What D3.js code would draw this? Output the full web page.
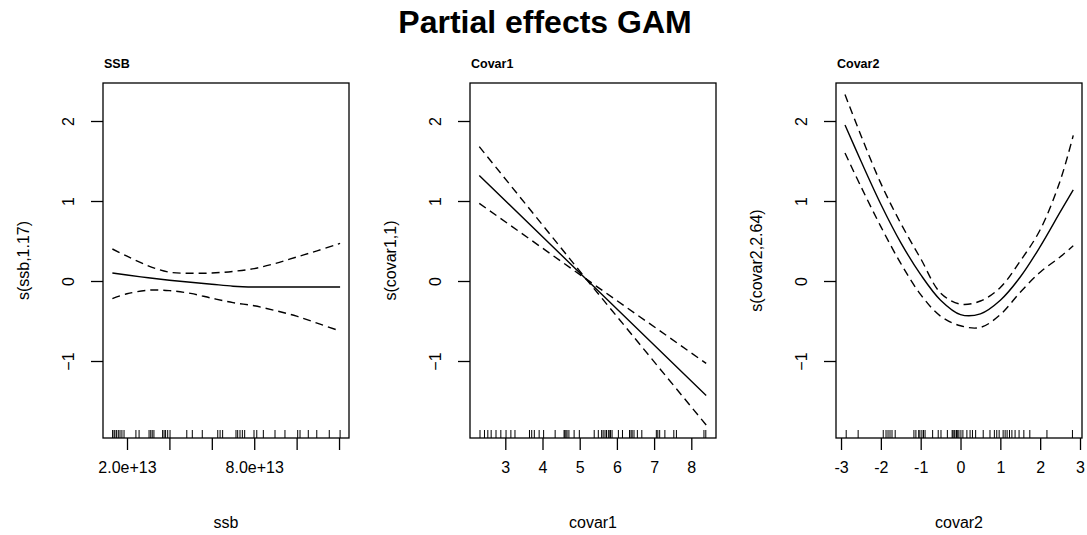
<!DOCTYPE html>
<html>
<head>
<meta charset="utf-8">
<script src="https://cdn.jsdelivr.net/npm/d3@7"></script>
<style>
  body { margin: 0; background: #fff; }
  svg { display: block; font-family: "Liberation Sans", Arial, sans-serif; }
</style>
</head>
<body>
<svg id="chart" width="1087" height="535"></svg>
<script>
// ---- data (x of ssb in units of 1e13) ----
const yTicks = [-1, 0, 1, 2];

const ssbTicks = [2, 4, 6, 8, 10, 12];
const ssbTickLabels = ["2.0e+13", "", "", "8.0e+13", "", ""];
const ssbGrid = [1.31, 2, 3, 4, 5, 6, 7, 8, 9, 10, 11, 12.05];
const ssbFit = [0.10, 0.075, 0.04, 0.01, -0.015, -0.04, -0.065, -0.075, -0.075, -0.075, -0.075, -0.075];
const ssbUpper = [0.40, 0.31, 0.19, 0.11, 0.097, 0.10, 0.12, 0.155, 0.22, 0.30, 0.38, 0.47];
const ssbLower = [-0.22, -0.16, -0.115, -0.12, -0.155, -0.215, -0.27, -0.31, -0.37, -0.44, -0.53, -0.625];
const ssbRug = [1.32, 1.39, 1.43, 1.51, 1.59, 1.67, 1.76, 1.86, 2.42, 2.57, 3.04, 3.12, 3.19, 3.27, 3.68, 3.75,
  3.82, 3.92, 4.03, 4.82, 5.08, 5.55, 6.28, 6.39, 6.51, 7.14, 7.22, 7.33, 7.44, 7.55, 7.99, 8.12, 8.43,
  8.98, 9.45, 10.05, 10.16, 10.55, 10.95, 11.54, 12.05];

const covar1Ticks = [3, 4, 5, 6, 7, 8];
const covar1TickLabels = ["3", "4", "5", "6", "7", "8"];
const covar1Grid = [2.30, 5.17, 8.40];
const covar1Fit = [1.32, 0.026, -1.43];
const covar1Upper = [1.68, 0.026, -1.03];
const covar1Lower = [0.97, 0.026, -1.80];
const covar1Rug = [2.32, 2.44, 2.53, 2.62, 2.75, 2.88, 3.02, 3.15, 3.26, 3.65, 3.71, 3.78, 3.91, 4.03, 4.34,
  4.58, 4.60, 4.63, 4.66, 4.71, 4.85, 4.99, 5.39, 5.50, 5.59, 5.63, 5.68, 5.72, 5.77, 5.81, 5.83, 5.87,
  6.04, 6.15, 6.34, 6.38, 6.41, 6.46, 6.55, 6.67, 7.06, 7.10, 7.15, 7.29, 7.53, 7.60, 8.34, 8.39];

const covar2Ticks = [-3, -2, -1, 0, 1, 2, 3];
const covar2TickLabels = ["-3", "-2", "-1", "0", "1", "2", "3"];
const covar2Grid = [-2.90, -2.5, -2.0, -1.5, -1.0, -0.5, 0, 0.5, 1.0, 1.5, 2.0, 2.5, 2.83];
const covar2Fit = [1.95, 1.50, 0.96, 0.48, 0.08, -0.24, -0.42, -0.41, -0.24, 0.05, 0.43, 0.86, 1.14];
const covar2Upper = [2.33, 1.82, 1.22, 0.72, 0.28, -0.15, -0.29, -0.25, -0.08, 0.25, 0.64, 1.25, 1.82];
const covar2Lower = [1.60, 1.18, 0.68, 0.22, -0.17, -0.44, -0.56, -0.58, -0.42, -0.14, 0.11, 0.30, 0.44];
const covar2Rug = [-2.87, -2.57, -1.94, -1.87, -1.82, -1.77, -1.72, -1.64, -1.17, -1.12, -1.05, -1.02, -0.97,
  -0.93, -0.89, -0.70, -0.56, -0.49, -0.33, -0.21, -0.19, -0.16, -0.14, -0.10, -0.07, -0.04, 0.01, 0.06,
  0.16, 0.24, 0.30, 0.38, 0.57, 0.74, 0.85, 0.91, 0.97, 1.07, 1.12, 1.17, 1.23, 1.29, 1.37, 1.47, 1.59,
  1.74, 2.17, 2.81];

// ---- layout ----
const svg = d3.select("#chart");
const plotTop = 83, plotBottom = 438, panelW = 246;
const yScale = d3.scaleLinear().domain([-1.9625, 2.475]).range([plotBottom, plotTop]);

svg.append("text")
  .attr("x", 545).attr("y", 33)
  .attr("text-anchor", "middle")
  .style("font-size", "32px").style("font-weight", "bold")
  .text("Partial effects GAM");

const smooth = d3.curveCatmullRom.alpha(0.5);
const panels = [
  {left: 103, domain: [0.868, 12.47], title: "SSB", xTitle: "ssb", yTitle: "s(ssb,1.17)",
   ticks: ssbTicks, labels: ssbTickLabels, grid: ssbGrid, fit: ssbFit, upper: ssbUpper, lower: ssbLower, rug: ssbRug, curve: smooth},
  {left: 470, domain: [2.051, 8.664], title: "Covar1", xTitle: "covar1", yTitle: "s(covar1,1)",
   ticks: covar1Ticks, labels: covar1TickLabels, grid: covar1Grid, fit: covar1Fit, upper: covar1Upper, lower: covar1Lower, rug: covar1Rug, curve: d3.curveLinear},
  {left: 836, domain: [-3.126, 3.050], title: "Covar2", xTitle: "covar2", yTitle: "s(covar2,2.64)",
   ticks: covar2Ticks, labels: covar2TickLabels, grid: covar2Grid, fit: covar2Fit, upper: covar2Upper, lower: covar2Lower, rug: covar2Rug, curve: smooth}
];

panels.forEach(p => drawPanel(p));

function drawPanel(p) {
  const x = d3.scaleLinear().domain(p.domain).range([p.left, p.left + panelW]);
  const g = svg.append("g");

  // x axis
  const xAxis = g.append("g")
    .attr("transform", `translate(0,${plotBottom})`)
    .call(d3.axisBottom(x).tickValues(p.ticks).tickSize(12).tickFormat((d, i) => p.labels[i]));
  xAxis.select(".domain").remove();
  xAxis.selectAll("line").attr("stroke", "#000").attr("stroke-width", 1.3);
  xAxis.selectAll("text").attr("y", 35).attr("dy", null)
    .attr("fill", "#000").style("font-size", "16px").style("font-family", "Liberation Sans, Arial, sans-serif");

  // y axis
  const yAxis = g.append("g")
    .attr("transform", `translate(${p.left},0)`)
    .call(d3.axisLeft(yScale).tickValues(yTicks).tickSize(12).tickFormat(d3.format("d")));
  yAxis.select(".domain").remove();
  yAxis.selectAll("line").attr("stroke", "#000").attr("stroke-width", 1.3);
  yAxis.selectAll("text")
    .attr("x", null).attr("dy", null)
    .attr("transform", "translate(-29,0) rotate(-90)")
    .attr("text-anchor", "middle")
    .attr("fill", "#000").style("font-size", "16px").style("font-family", "Liberation Sans, Arial, sans-serif");

  // box
  g.append("rect")
    .attr("x", p.left).attr("y", plotTop)
    .attr("width", panelW).attr("height", plotBottom - plotTop)
    .attr("fill", "none").attr("stroke", "#000").attr("stroke-width", 1.3);

  // titles
  g.append("text")
    .attr("x", p.left + 1).attr("y", 68)
    .style("font-size", "12.5px").style("font-weight", "bold")
    .text(p.title);
  g.append("text")
    .attr("x", p.left + panelW / 2).attr("y", 528)
    .attr("text-anchor", "middle").style("font-size", "16px")
    .text(p.xTitle);
  g.append("text")
    .attr("transform", `translate(${p.left - 74},${(plotTop + plotBottom) / 2}) rotate(-90)`)
    .attr("text-anchor", "middle").style("font-size", "16px")
    .text(p.yTitle);

  // rug
  g.append("g").selectAll("line")
    .data(p.rug).enter().append("line")
    .attr("x1", d => x(d)).attr("x2", d => x(d))
    .attr("y1", plotBottom).attr("y2", plotBottom - 8)
    .attr("stroke", "#000").attr("stroke-width", 1);

  // curves
  const line = d3.line().x(d => x(d[0])).y(d => yScale(d[1])).curve(p.curve);
  const series = [
    {vals: p.upper, dash: "8,5"},
    {vals: p.lower, dash: "8,5"},
    {vals: p.fit, dash: null}
  ];
  series.forEach(s => {
    g.append("path")
      .datum(p.grid.map((gx, i) => [gx, s.vals[i]]))
      .attr("d", line)
      .attr("fill", "none").attr("stroke", "#000").attr("stroke-width", 1.4)
      .attr("stroke-dasharray", s.dash);
  });
}
</script>
</body>
</html>
